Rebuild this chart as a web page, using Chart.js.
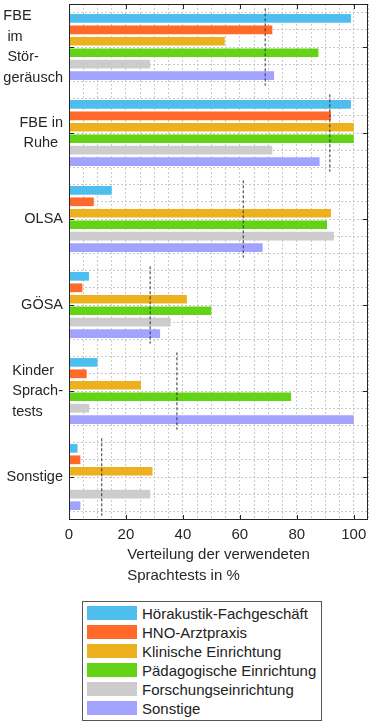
<!DOCTYPE html>
<html lang="de">
<head>
<meta charset="utf-8">
<script src="https://cdn.jsdelivr.net/npm/chart.js@4/dist/chart.umd.min.js"></script>
<style>
    body { margin: 0; background: #fff; font-family: 'Liberation Sans', Arial, sans-serif; }
    #wrap { position: relative; width: 374px; height: 725px; }
    #legende {
        position: absolute; left: 82px; top: 601px; width: 240px; height: 120px;
        box-sizing: border-box; border: 1px solid #555; padding: 4px 0 0 4px; background: #fff;
    }
    .eintrag { display: flex; align-items: center; height: 14px; margin-bottom: 5px; font-size: 15px; color: #222; white-space: nowrap; }
    .farbe { width: 50px; height: 14px; margin-right: 5px; flex: none; }
</style>
</head>
<body>
<div id="wrap">
    <canvas id="chart-sprachtests" width="374" height="598"></canvas>
    <div id="legende"></div>
</div>
<script>
// Kategorien (Zeilen der Beschriftung, fuehrende Leerzeichen wie im Original)
const kategorien = [
    ['FBE', ' im', ' Stör-', 'geräusch'],
    ['FBE in', ' Ruhe'],
    ['OLSA'],
    ['GÖSA'],
    ['Kinder', 'Sprach-', 'tests'],
    ['Sonstige']
];

const serienNamen = [
    'Hörakustik-Fachgeschäft',
    'HNO-Arztpraxis',
    'Klinische Einrichtung',
    'Pädagogische Einrichtung',
    'Forschungseinrichtung',
    'Sonstige'
];

// Werte in % je Kategorie
const hoerakustik = [99, 99, 15, 7, 10, 3];
const hnoPraxis = [71.4, 92, 8.7, 4.7, 6.2, 4];
const klinisch = [54.7, 100, 92, 41.4, 25.3, 29.3];
const paedagogisch = [87.6, 100, 90.6, 50, 78, 0];
const forschung = [28.5, 71.4, 93, 35.7, 7.1, 28.5];
const sonstige = [72, 88, 68, 32, 100, 4];

// Mittelwerte (gestrichelte Linien)
const mittelwerte = [68.9, 91.6, 61.2, 28.5, 37.9, 11.5];

const xBeschriftung = [0, 20, 40, 60, 80, 100];
const achsenTitel = ['Verteilung der verwendeten', 'Sprachtests in %'];

const serienWerte = [hoerakustik, hnoPraxis, klinisch, paedagogisch, forschung, sonstige];
const farben = ['#4DBEEE', '#FF6929', '#EDB120', '#62D415', '#CCCCCC', '#A2A2FF'];
const schrift = "'Liberation Sans', Arial, sans-serif";
const textFarbe = '#262626';
const gitterFarbe = '#c8c8c8';
const halbeLinie = 0.45;

Chart.defaults.font.family = schrift;

const rahmenPlugin = {
    id: 'rahmen',
    afterDraw(chart) {
        const { ctx, chartArea: a, scales: { x, y } } = chart;
        ctx.save();
        ctx.strokeStyle = textFarbe;
        ctx.lineWidth = 1;
        ctx.strokeRect(a.left + 0.5, a.top + 0.5, a.right - a.left - 1, a.bottom - a.top - 1);

        // Teilstriche nach innen
        ctx.beginPath();
        xBeschriftung.forEach(v => {
            const px = Math.round(x.getPixelForValue(v)) + 0.5;
            ctx.moveTo(px, a.bottom); ctx.lineTo(px, a.bottom - 5);
            ctx.moveTo(px, a.top); ctx.lineTo(px, a.top + 5);
        });
        kategorien.forEach((_, i) => {
            const py = Math.round(y.getPixelForValue(i)) + 0.5;
            ctx.moveTo(a.left, py); ctx.lineTo(a.left + 5, py);
            ctx.moveTo(a.right, py); ctx.lineTo(a.right - 5, py);
        });
        ctx.stroke();

        ctx.fillStyle = textFarbe;
        ctx.textBaseline = 'middle';
        ctx.textAlign = 'left';

        // Kategorienbeschriftung: Block rechtsbuendig, Zeilen linksbuendig
        ctx.font = `14.5px ${schrift}`;
        kategorien.forEach((zeilen, i) => {
            const breite = Math.max(...zeilen.map(z => ctx.measureText(z).width));
            const x0 = a.left - 6 - breite;
            const yc = y.getPixelForValue(i);
            zeilen.forEach((z, j) => {
                ctx.fillText(z, x0, yc + (j - (zeilen.length - 1) / 2) * 20.5);
            });
        });

        // Achsentitel
        ctx.font = `15px ${schrift}`;
        const tb = Math.max(...achsenTitel.map(z => ctx.measureText(z).width));
        const tx = (a.left + a.right) / 2 - tb / 2;
        achsenTitel.forEach((z, j) => ctx.fillText(z, tx, a.bottom + 35 + j * 21));
        ctx.restore();
    }
};

const barDatasets = serienNamen.map((name, s) => ({
    type: 'bar',
    label: name,
    data: serienWerte[s].map((v, i) => ({ x: v, y: i })),
    backgroundColor: farben[s],
    borderWidth: 0,
    categoryPercentage: 0.8,
    barPercentage: 0.76,
    order: 1
}));

const mittelDatasets = mittelwerte.map((m, i) => ({
    type: 'line',
    label: 'Mittelwert',
    indexAxis: 'y',
    data: [{ x: m, y: i - halbeLinie }, { x: m, y: i + halbeLinie }],
    borderColor: '#333',
    borderWidth: 1,
    borderDash: [3, 2],
    pointRadius: 0,
    fill: false,
    order: 0
}));

const chart = new Chart(document.getElementById('chart-sprachtests'), {
    type: 'bar',
    data: { datasets: [...barDatasets, ...mittelDatasets] },
    options: {
        indexAxis: 'y',
        responsive: false,
        animation: false,
        layout: { padding: { top: 4, right: 3, left: 0, bottom: 0 } },
        plugins: {
            legend: { display: false },
            tooltip: { enabled: false }
        },
        scales: {
            x: {
                type: 'linear',
                position: 'bottom',
                min: 0,
                max: 105,
                ticks: {
                    stepSize: 5,
                    autoSkip: false,
                    maxRotation: 0,
                    padding: 6,
                    color: textFarbe,
                    font: { size: 15 },
                    callback(value) {
                        return xBeschriftung.includes(value) ? value : '';
                    }
                },
                grid: { color: gitterFarbe, lineWidth: 1, drawTicks: false },
                border: { display: false, dash: [2, 2] },
                afterFit(scale) { scale.height = 78; }
            },
            y: {
                type: 'linear',
                position: 'left',
                min: -0.5,
                max: 5.5,
                reverse: true,
                offset: false,
                ticks: { display: false },
                afterBuildTicks(scale) {
                    scale.ticks = kategorien.map((_, i) => ({ value: i }));
                },
                grid: { display: false, offset: false },
                border: { display: false },
                afterFit(scale) { scale.width = 69; }
            },
            yGitter: {
                type: 'linear',
                axis: 'y',
                position: 'left',
                min: -0.5,
                max: 5.5,
                reverse: true,
                offset: false,
                ticks: { display: false, stepSize: 0.2 },
                grid: { color: gitterFarbe, lineWidth: 1, drawTicks: false },
                border: { display: false, dash: [2, 2] },
                afterFit(scale) { scale.width = 0; }
            }
        }
    },
    plugins: [rahmenPlugin]
});

// Legende als HTML
const legende = document.getElementById('legende');
chart.data.datasets.filter(ds => ds.type === 'bar').forEach(ds => {
    const zeile = document.createElement('div');
    zeile.className = 'eintrag';
    const farbe = document.createElement('span');
    farbe.className = 'farbe';
    farbe.style.background = ds.backgroundColor;
    const text = document.createElement('span');
    text.textContent = ds.label;
    zeile.append(farbe, text);
    legende.appendChild(zeile);
});
</script>
</body>
</html>
